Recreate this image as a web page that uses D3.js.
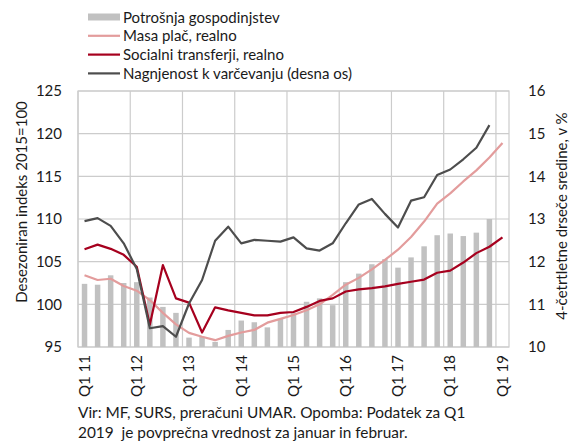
<!DOCTYPE html>
<html>
<head>
<meta charset="utf-8">
<script src="https://cdn.jsdelivr.net/npm/d3@7"></script>
<style>
  body { margin: 0; background: #fff; }
  svg text { font-family: Lato, "Noto Sans", sans-serif; fill: #1a1a1a; }
</style>
</head>
<body>
<div id="chart"></div>
<script>
// Quarters Q1 2011 .. Q1 2019
const quarters = d3.range(33).map(i => `Q${i % 4 + 1} ${11 + Math.floor(i / 4)}`);
const tickQuarters = ["Q1 11", "Q1 12", "Q1 13", "Q1 14", "Q1 15", "Q1 16", "Q1 17", "Q1 18", "Q1 19"];

// Potrošnja gospodinjstev (left axis, bars)
const consumption = [102.4, 102.3, 103.4, 102.5, 102.6, 100.8, 99.7, 99.0,
                     96.1, 96.2, 95.6, 97.0, 98.1, 97.9, 97.3, 98.3,
                     99.0, 100.3, 100.7, 99.9, 102.6, 103.6, 104.7, 105.3,
                     104.3, 105.5, 106.8, 108.1, 108.3, 108.0, 108.4, 110.0, null];

// Masa plač, realno (left axis)
const wages = [103.4, 102.85, 103.0, 102.15, 101.6, 100.5, 99.0, 97.65,
               96.65, 96.2, 95.8, 96.3, 96.7, 97.0, 97.85, 98.3,
               98.75, 99.3, 100.0, 101.1, 102.3, 103.1, 104.1, 105.2,
               106.4, 107.9, 109.7, 111.8, 113.0, 114.4, 115.7, 117.2, 118.9];

// Socialni transferji, realno (left axis)
const transfers = [106.45, 107.0, 106.5, 105.8, 104.4, 97.6, 104.6, 100.7,
                   100.2, 96.7, 99.65, 99.3, 99.0, 98.7, 98.7, 99.0,
                   99.1, 99.7, 100.4, 100.7, 101.5, 101.75, 101.9, 102.1,
                   102.4, 102.65, 102.9, 103.7, 103.95, 104.9, 106.0, 106.75, 107.85];

// Nagnjenost k varčevanju (right axis, %)
const savings = [12.95, 13.02, 12.84, 12.43, 11.83, 10.44, 10.49, 10.24,
                 11.02, 11.57, 12.49, 12.82, 12.43, 12.51, 12.49, 12.47,
                 12.57, 12.31, 12.26, 12.43, 12.9, 13.34, 13.47, 13.12,
                 12.8, 13.43, 13.51, 14.03, 14.16, 14.4, 14.67, 15.2, null];

const leftTicks = [95, 100, 105, 110, 115, 120, 125];
const rightTicks = [10, 11, 12, 13, 14, 15, 16];

const COLORS = {
    bars: "#c1c1c1",
    wages: "#e39c9c",
    transfers: "#a6001e",
    savings: "#4d4d4d",
    grid: "#cccccc"
};

const W = 582, H = 443;
const plot = { left: 78, right: 509, top: 91, bottom: 347 };

const svg = d3.select("#chart").append("svg")
    .attr("width", W)
    .attr("height", H);

// ── Scales ─────────────────────────────────────────────────────────────
const x = d3.scaleBand()
    .domain(quarters)
    .range([plot.left, plot.right])
    .paddingInner(0.58)
    .paddingOuter(0.29);

const yL = d3.scaleLinear().domain([95, 125]).range([plot.bottom, plot.top]);
const yR = d3.scaleLinear().domain([10, 16]).range([plot.bottom, plot.top]);

const step = x.step();
const bandLeft = q => x(q) - x.paddingInner() * step / 2;
const center = q => x(q) + x.bandwidth() / 2;

// ── Grid ───────────────────────────────────────────────────────────────
const gridG = svg.append("g");
gridG.selectAll("line.h")
    .data(leftTicks)
    .join("line")
    .attr("class", "h")
    .attr("x1", plot.left).attr("x2", plot.right)
    .attr("y1", d => yL(d)).attr("y2", d => yL(d))
    .style("stroke", COLORS.grid).style("stroke-width", 1.2);

gridG.selectAll("line.v")
    .data(tickQuarters)
    .join("line")
    .attr("class", "v")
    .attr("x1", d => bandLeft(d)).attr("x2", d => bandLeft(d))
    .attr("y1", plot.top).attr("y2", plot.bottom)
    .style("stroke", COLORS.grid).style("stroke-width", 1.2);

gridG.append("rect")
    .attr("x", plot.left).attr("y", plot.top)
    .attr("width", plot.right - plot.left)
    .attr("height", plot.bottom - plot.top)
    .style("fill", "none")
    .style("stroke", COLORS.grid).style("stroke-width", 1.2);

// ── Bars ───────────────────────────────────────────────────────────────
svg.append("g").selectAll("rect")
    .data(quarters.map((q, i) => ({ q, v: consumption[i] })).filter(d => d.v != null))
    .join("rect")
    .attr("x", d => x(d.q))
    .attr("width", x.bandwidth())
    .attr("y", d => yL(d.v))
    .attr("height", d => yL(95) - yL(d.v))
    .style("fill", COLORS.bars);

// ── Lines ──────────────────────────────────────────────────────────────
function drawLine(values, yScale, color) {
    const line = d3.line()
        .defined(d => d.v != null)
        .x(d => center(d.q))
        .y(d => yScale(d.v));
    svg.append("path")
        .datum(quarters.map((q, i) => ({ q, v: values[i] })))
        .attr("d", line)
        .style("fill", "none")
        .style("stroke", color)
        .style("stroke-width", 2.2)
        .style("stroke-linejoin", "round");
}
drawLine(wages, yL, COLORS.wages);
drawLine(transfers, yL, COLORS.transfers);
drawLine(savings, yR, COLORS.savings);

// ── Axes ───────────────────────────────────────────────────────────────
const axL = svg.append("g")
    .attr("transform", `translate(${plot.left},0)`)
    .call(d3.axisLeft(yL).tickValues(leftTicks).tickFormat(d3.format("d")).tickSize(0).tickPadding(16));
const axR = svg.append("g")
    .attr("transform", `translate(${plot.right},0)`)
    .call(d3.axisRight(yR).tickValues(rightTicks).tickFormat(d3.format("d")).tickSize(0).tickPadding(19));
[axL, axR].forEach(a => {
    a.select(".domain").remove();
    a.selectAll("text").style("font-size", "15px").style("font-family", "Lato, sans-serif").attr("fill", "#1a1a1a");
});

const axX = svg.append("g")
    .attr("transform", `translate(0,${plot.bottom})`)
    .call(d3.axisBottom(x).tickValues(tickQuarters).tickSize(0));
axX.select(".domain").remove();
axX.selectAll("text")
    .attr("transform", "rotate(-90)")
    .attr("x", -8).attr("y", 0).attr("dy", "0.35em")
    .style("text-anchor", "end")
    .style("font-size", "15px")
    .style("font-family", "Lato, sans-serif")
    .attr("fill", "#1a1a1a");

// Axis titles
svg.append("text")
    .attr("transform", "rotate(-90)")
    .attr("x", -202).attr("y", 27)
    .style("text-anchor", "middle")
    .style("font-size", "15px")
    .text("Desezoniran indeks 2015=100");

svg.append("text")
    .attr("transform", "rotate(-90)")
    .attr("x", -216).attr("y", 567)
    .style("text-anchor", "middle")
    .style("font-size", "15px")
    .text("4-četrtletne drseče sredine, v %");

// ── Legend ─────────────────────────────────────────────────────────────
const legend = [
    { label: "Potrošnja gospodinjstev", color: COLORS.bars, type: "bar" },
    { label: "Masa plač, realno", color: COLORS.wages, type: "line" },
    { label: "Socialni transferji, realno", color: COLORS.transfers, type: "line" },
    { label: "Nagnjenost k varčevanju (desna os)", color: COLORS.savings, type: "line" }
];
const legendG = svg.append("g").attr("transform", "translate(88,17)");
legend.forEach((d, i) => {
    const row = legendG.append("g").attr("transform", `translate(0,${i * 18.8})`);
    if (d.type === "bar") {
        row.append("rect").attr("x", 0).attr("y", -3.5).attr("width", 32).attr("height", 7)
            .style("fill", d.color);
    } else {
        row.append("line").attr("x1", 0).attr("x2", 32).attr("y1", 0).attr("y2", 0)
            .style("stroke", d.color).style("stroke-width", 2.2);
    }
    row.append("text").attr("x", 35).attr("y", 5.5)
        .style("font-size", "15px")
        .text(d.label);
});

// ── Footnote ───────────────────────────────────────────────────────────
const notes = ["Vir: MF, SURS, preračuni UMAR. Opomba: Podatek za Q1",
               "2019  je povprečna vrednost za januar in februar."];
svg.append("g").selectAll("text")
    .data(notes)
    .join("text")
    .attr("x", 78)
    .attr("y", (d, i) => 418 + i * 20)
    .attr("xml:space", "preserve")
    .style("white-space", "pre")
    .style("font-size", "15.4px")
    .text(d => d);
</script>
</body>
</html>
